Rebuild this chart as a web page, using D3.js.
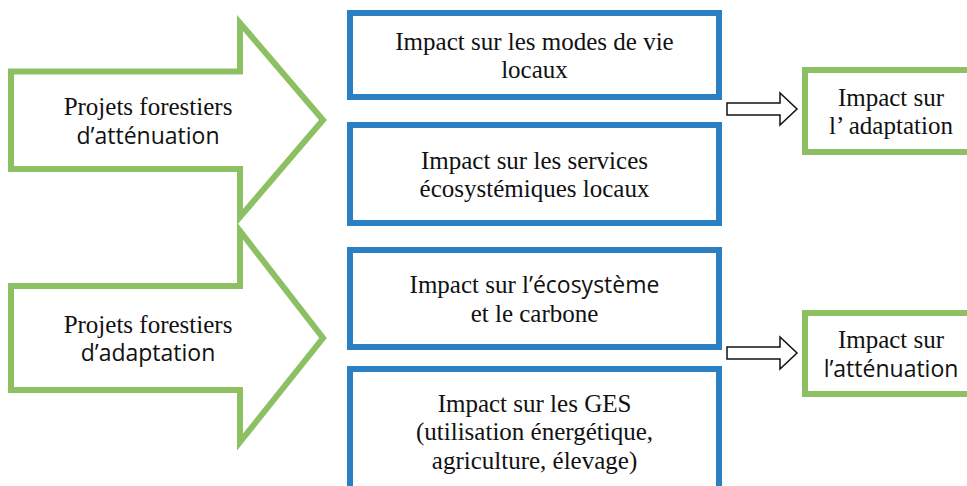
<!DOCTYPE html>
<html>
<head>
<meta charset="utf-8">
<script src="https://cdn.jsdelivr.net/npm/d3@7"></script>
<style>
  html, body { margin: 0; padding: 0; background: #fff; }
  svg { display: block; }
</style>
</head>
<body>
<div id="schema"></div>
<script>
// textes du schema
const sourceLabels = [
  ["Projets forestiers", "d’atténuation"],
  ["Projets forestiers", "d’adaptation"]
];
const impactLabels = [
  [["Impact sur les modes de vie", "locaux"], ["Impact sur les services", "écosystémiques locaux"]],
  [["Impact sur l’écosystème", "et le carbone"], ["Impact sur les GES", "(utilisation énergétique,", "agriculture, élevage)"]]
];
const outcomeLabels = [
  ["Impact sur", "l’ adaptation"],
  ["Impact sur", "l’atténuation"]
];
// morceaux ecrits en sans-serif dans l'original
const sansParts = ["d’atténuation", "d’adaptation", "’écosystème", "l’atténuation"];

const W = 967, H = 486;
const green = "#8cc063", blue = "#2a80c3";
const fonts = {
  serif: { family: "Liberation Serif", size: 25 },
  sans: { family: "Open Sans", size: 23 }
};
const LINE = 28.5;

const svg = d3.select("#schema").append("svg")
  .attr("width", W).attr("height", H);

// geometrie de chaque groupe (fleche verte, boites bleues, petite fleche, boite verte)
const groups = [
  { shaft: [71.5, 169], head: [23, 217], tipY: 120,
    boxes: [[13, 97], [125, 223]], small: 109, outcome: [70, 152] },
  { shaft: [286, 390], head: [231, 442], tipY: 338,
    boxes: [[250, 347], [369, 493]], small: 353, outcome: [313, 394] }
];
const x = { shaftL: 11, headX: 240, tipX: 323, boxL: 350, boxR: 719,
            sL: 727, sHead: 780, sTip: 797, outL: 805, outR: 977 };

// ecrit un bloc de lignes centre sur (cx, cy), un <text> par morceau
function writeLines(lines, cx, cy) {
  const y0 = cy - (lines.length - 1) * LINE / 2 + 9;
  lines.forEach(function(txt, i) {
    let parts = [{ s: txt, f: "serif" }];
    sansParts.forEach(function(p) {
      const k = txt.indexOf(p);
      if (k >= 0) parts = [{ s: txt.slice(0, k), f: "serif" }, { s: p, f: "sans" }, { s: txt.slice(k + p.length), f: "serif" }];
    });
    parts = parts.filter(function(p) { return p.s.length > 0; });

    const nodes = parts.map(function(p) {
      return svg.append("text")
        .attr("font-family", fonts[p.f].family)
        .attr("font-size", fonts[p.f].size)
        .attr("fill", "#111")
        .attr("y", y0 + i * LINE)
        .text(p.s);
    });
    const widths = nodes.map(function(n) { return n.node().getComputedTextLength(); });
    let xx = cx - d3.sum(widths) / 2;
    nodes.forEach(function(n, j) {
      n.attr("x", xx);
      xx += widths[j];
    });
  });
}

const path = d3.line();

groups.forEach(function(g, gi) {
  // grande fleche verte
  const pts = [
    [x.shaftL, g.shaft[0]], [x.headX, g.shaft[0]], [x.headX, g.head[0]],
    [x.tipX, g.tipY], [x.headX, g.head[1]], [x.headX, g.shaft[1]],
    [x.shaftL, g.shaft[1]]
  ];
  svg.append("path")
    .attr("d", path(pts) + "Z")
    .attr("fill", "white")
    .attr("stroke", green)
    .attr("stroke-width", 6)
    .attr("stroke-linejoin", "miter")
    .attr("stroke-miterlimit", 10);
  writeLines(sourceLabels[gi], 148, (g.shaft[0] + g.shaft[1]) / 2);

  // boites bleues
  g.boxes.forEach(function(b, bi) {
    svg.append("rect")
      .attr("x", x.boxL).attr("y", b[0])
      .attr("width", x.boxR - x.boxL).attr("height", b[1] - b[0])
      .attr("fill", "white")
      .attr("stroke", blue)
      .attr("stroke-width", 6);
    writeLines(impactLabels[gi][bi], (x.boxL + x.boxR) / 2, (b[0] + b[1]) / 2);
  });

  // petite fleche noire
  const c = g.small;
  const sp = [
    [x.sL, c - 6], [x.sHead, c - 6], [x.sHead, c - 16], [x.sTip, c],
    [x.sHead, c + 16], [x.sHead, c + 6], [x.sL, c + 6]
  ];
  svg.append("path")
    .attr("d", path(sp) + "Z")
    .attr("fill", "white")
    .attr("stroke", "#111")
    .attr("stroke-width", 1.5);

  // boite verte de droite
  svg.append("rect")
    .attr("x", x.outL).attr("y", g.outcome[0])
    .attr("width", x.outR - x.outL).attr("height", g.outcome[1] - g.outcome[0])
    .attr("fill", "white")
    .attr("stroke", green)
    .attr("stroke-width", 6);
  writeLines(outcomeLabels[gi], 891, (g.outcome[0] + g.outcome[1]) / 2);
});
</script>
</body>
</html>
